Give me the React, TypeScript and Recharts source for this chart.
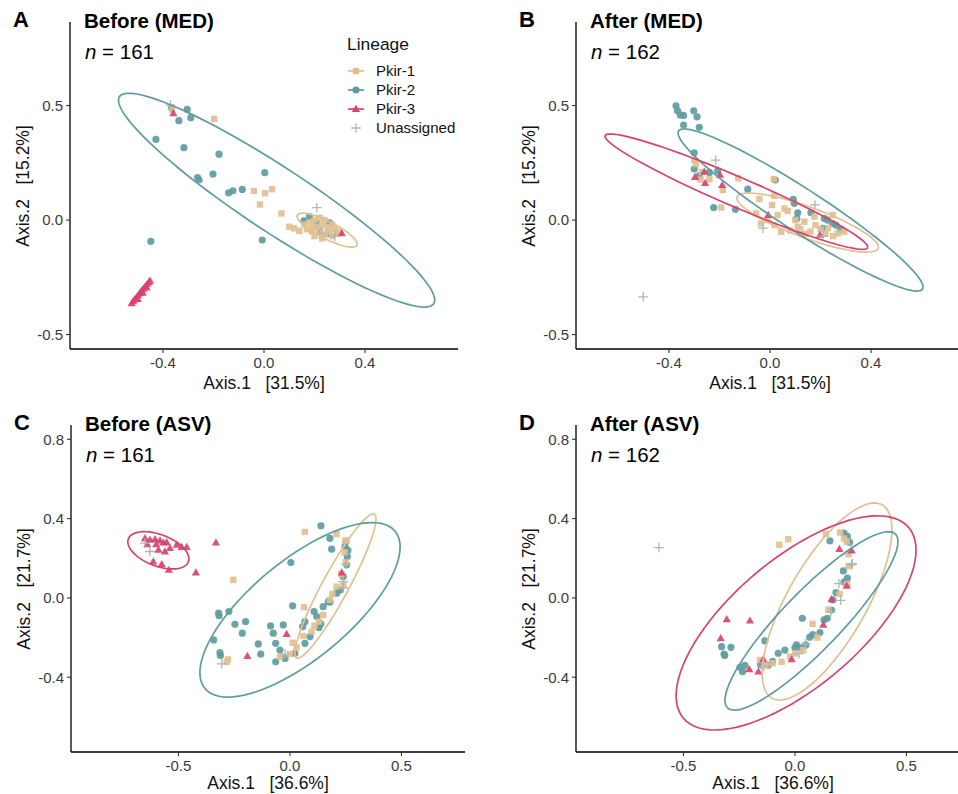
import React from "react"
import { ScatterChart, Scatter, XAxis, YAxis } from "recharts"

const TAN = "#E2BF93"
const TEAL = "#5E9C9F"
const RED = "#D8436D"
const GREY = "#B4B4B4"
const FONT = '"Liberation Sans", Arial, Helvetica, sans-serif'

// ---- tick labels ----
const medTicksX = [-0.4, 0, 0.4]
const medTicksY = [-0.5, 0, 0.5]
const asvTicksX = [-0.5, 0, 0.5]
const asvTicksY = [-0.4, 0, 0.4, 0.8]

// ---- A: Before (MED) ----
const beforeMedPkir1 = [
  [-0.364, 0.483], [-0.197, 0.442], [-0.04, 0.127], [0.004, 0.117], [0.032, 0.135], [-0.016, 0.068],
  [0.069, 0.029], [0.1, -0.029], [0.119, -0.036], [0.14, -0.047], [0.195, -0.029], [0.18, -0.01],
  [0.2, 0.0], [0.22, 0.01], [0.24, 0.0], [0.21, -0.03], [0.23, -0.02], [0.25, -0.03], [0.27, -0.02],
  [0.28, -0.04], [0.26, -0.05], [0.24, -0.06], [0.22, -0.05], [0.19, -0.05], [0.3, -0.05],
  [0.29, -0.06], [0.27, -0.07], [0.2, -0.07], [0.23, -0.08], [0.17, -0.04], [0.16, -0.02],
]
const beforeMedPkir2 = [
  [-0.366, 0.49], [-0.304, 0.483], [-0.29, 0.447], [-0.337, 0.434], [-0.428, 0.352], [-0.317, 0.316],
  [-0.178, 0.288], [-0.263, 0.186], [-0.257, 0.175], [-0.202, 0.201], [0.003, 0.207], [-0.14, 0.119],
  [-0.123, 0.128], [-0.086, 0.134], [-0.448, -0.093], [-0.007, -0.087], [0.158, -0.003], [0.18, 0.015],
  [0.209, -0.015], [0.261, -0.015], [0.22, -0.045], [0.25, -0.06], [0.259, -0.012],
]
const beforeMedPkir3 = [
  [-0.359, 0.466], [0.308, -0.058], [-0.524, -0.364], [-0.518, -0.355], [-0.512, -0.347],
  [-0.505, -0.338], [-0.498, -0.329], [-0.492, -0.32], [-0.485, -0.31], [-0.478, -0.3], [-0.47, -0.29],
  [-0.463, -0.28], [-0.456, -0.272], [-0.451, -0.265], [-0.5, -0.345], [-0.48, -0.318], [-0.465, -0.295],
]
const beforeMedUnassigned = [[-0.37, 0.502], [0.209, 0.054], [0.28, -0.07], [0.22, -0.06]]

// ---- B: After (MED) ----
const afterMedPkir1 = [
  [-0.3, 0.262], [-0.293, 0.245], [-0.24, 0.178], [-0.275, 0.177], [-0.187, 0.131], [-0.126, 0.182],
  [0.015, 0.179], [-0.193, 0.055], [-0.042, 0.092], [0.008, 0.066], [0.017, 0.106], [-0.055, 0.029],
  [0.03, 0.022], [0.057, 0.051], [0.07, 0.04], [-0.036, -0.015], [0.017, -0.022], [0.044, -0.051],
  [0.11, -0.029], [0.136, -0.007], [0.176, 0.015], [0.18, -0.022], [0.2, -0.04], [0.23, -0.035],
  [0.248, 0.022], [0.268, -0.058], [0.294, -0.051], [0.14, -0.06], [0.08, -0.045], [-0.01, 0.0],
  [0.1, 0.0], [0.16, -0.05], [0.22, -0.06], [0.25, -0.07], [0.12, -0.04], [-0.27, 0.21],
]
const afterMedPkir2 = [
  [-0.372, 0.499], [-0.366, 0.477], [-0.355, 0.459], [-0.342, 0.457], [-0.302, 0.477], [-0.289, 0.451],
  [-0.342, 0.415], [-0.28, 0.405], [-0.3, 0.294], [-0.3, 0.223], [-0.28, 0.194], [-0.24, 0.208],
  [-0.207, 0.215], [-0.223, 0.055], [-0.137, 0.047], [-0.088, 0.135], [0.021, 0.175], [0.092, 0.09],
  [0.096, 0.073], [0.11, 0.032], [0.106, 0.007], [0.162, 0.032], [0.215, 0.007], [0.228, 0.0],
  [0.248, -0.015], [0.261, -0.022], [0.209, -0.036], [0.28, -0.04],
]
const afterMedPkir3 = [
  [-0.297, 0.188], [-0.257, 0.162], [-0.26, 0.211], [-0.198, 0.197], [-0.189, 0.153], [-0.007, 0.022],
  [0.198, -0.065],
]
const afterMedUnassigned = [[-0.215, 0.262], [-0.502, -0.335], [-0.028, -0.035], [0.178, 0.066], [0.21, -0.07]]

// ---- C: Before (ASV) ----
const beforeAsvPkir1 = [
  [0.067, 0.333], [0.209, 0.322], [-0.254, 0.091], [0.063, -0.047], [-0.284, -0.322], [-0.278, -0.31],
  [0.012, -0.226], [0.06, -0.192], [0.097, -0.17], [0.149, -0.086], [0.179, -0.01], [0.209, 0.057],
  [0.24, 0.07], [0.25, 0.18], [0.25, 0.29], [0.0, -0.283], [-0.045, -0.296], [0.11, -0.14],
  [0.19, 0.02], [0.23, 0.12], [0.245, 0.23], [0.03, -0.25], [0.13, -0.12],
]
const beforeAsvPkir2 = [
  [0.139, 0.364], [0.179, 0.301], [0.187, 0.246], [0.004, 0.178], [0.012, -0.04], [-0.32, -0.077],
  [-0.274, -0.069], [-0.318, -0.09], [-0.247, -0.133], [-0.199, -0.12], [-0.214, -0.178], [-0.342, -0.212],
  [-0.314, -0.276], [-0.312, -0.29], [-0.142, -0.232], [-0.131, -0.283], [-0.087, -0.141], [-0.075, -0.178],
  [-0.03, -0.136], [-0.064, -0.229], [-0.045, -0.263], [-0.064, -0.322], [-0.022, -0.305], [0.022, -0.279],
  [0.057, -0.145], [0.067, -0.12], [0.108, -0.069], [0.12, -0.094], [0.138, -0.131], [0.13, -0.15],
  [0.09, -0.195], [0.067, -0.229], [0.149, -0.044], [0.172, -0.019], [0.18, -0.02], [0.209, 0.024],
  [0.224, 0.04], [0.239, 0.108], [0.254, 0.167], [0.257, 0.209], [0.247, 0.259], [0.251, 0.284],
  [0.26, 0.24],
]
const beforeAsvPkir3 = [
  [-0.65, 0.301], [-0.628, 0.293], [-0.605, 0.296], [-0.583, 0.289], [-0.568, 0.279], [-0.553, 0.28],
  [-0.538, 0.251], [-0.508, 0.268], [-0.486, 0.256], [-0.463, 0.256], [-0.59, 0.242], [-0.561, 0.234],
  [-0.613, 0.183], [-0.575, 0.17], [-0.543, 0.141], [-0.422, 0.128], [-0.332, 0.279], [-0.64, 0.27],
  [-0.6, 0.27], [-0.015, -0.182], [-0.191, -0.293], [0.232, 0.128],
]
const beforeAsvUnassigned = [
  [-0.306, -0.333], [0.239, 0.082], [0.25, 0.17], [-0.022, -0.283], [-0.65, 0.276], [-0.628, 0.234], [0.24, 0.05],
]

// ---- D: After (ASV) ----
const afterAsvPkir1 = [
  [-0.07, 0.268], [-0.03, 0.296], [0.139, 0.323], [0.202, 0.33], [0.232, 0.284], [0.24, 0.16],
  [0.235, 0.07], [0.2, 0.02], [0.079, -0.131], [0.15, -0.06], [0.037, -0.263], [-0.022, -0.296],
  [-0.06, -0.322], [-0.1, -0.33], [-0.157, -0.313], [-0.13, -0.34], [0.24, 0.22], [0.22, 0.3],
  [0.1, -0.2], [0.0, -0.28],
]
const afterAsvPkir2 = [
  [0.157, 0.288], [0.22, 0.327], [0.235, 0.31], [0.245, 0.28], [0.217, 0.136], [0.235, 0.1],
  [0.22, 0.08], [0.184, 0.027], [0.17, -0.01], [0.164, -0.061], [0.145, -0.103], [0.13, -0.11],
  [0.112, -0.175], [0.08, -0.185], [0.066, -0.198], [0.033, -0.103], [0.049, -0.237], [0.007, -0.237],
  [0.0, -0.25], [0.022, -0.252], [-0.075, -0.279], [-0.135, -0.217], [-0.154, -0.338], [-0.12, -0.34],
  [-0.247, -0.35], [-0.225, -0.34], [-0.235, -0.372], [-0.329, -0.246], [-0.287, -0.249], [-0.318, -0.283],
  [-0.315, -0.29], [-0.045, -0.263], [-0.1, -0.32],
]
const afterAsvPkir3 = [
  [-0.306, -0.108], [-0.202, -0.115], [-0.333, -0.204], [-0.142, -0.31], [-0.205, -0.36], [-0.164, -0.372],
  [-0.015, -0.31], [0.127, -0.136], [0.164, -0.007], [0.232, 0.061], [0.199, 0.246], [0.254, 0.239],
]
const afterAsvUnassigned = [
  [-0.61, 0.254], [0.257, 0.173], [0.197, 0.072], [0.205, -0.012], [0.16, -0.07], [0.048, -0.231],
  [0.018, -0.281], [-0.139, -0.345], [0.254, 0.167],
]

// ---- 95% ellipses: centre x, centre y, x half-extent, y half-extent, correlation ----
const beforeMedEllipses = { pkir1: [0.25, -0.044, 0.119, 0.074, -0.82], pkir2: [0.05, 0.087, 0.626, 0.467, -0.934] }
const afterMedEllipses = {
  pkir1: [0.149, -0.011, 0.28, 0.129, -0.83],
  pkir2: [0.121, 0.044, 0.485, 0.354, -0.95],
  pkir3: [-0.133, 0.124, 0.52, 0.252, -0.96],
}
const beforeAsvEllipses = {
  pkir1: [0.204, 0.06, 0.182, 0.364, 0.93],
  pkir2: [0.045, -0.06, 0.449, 0.44, 0.72],
  pkir3: [-0.59, 0.24, 0.137, 0.094, -0.46],
}
const afterAsvEllipses = {
  pkir1: [0.144, -0.018, 0.291, 0.497, 0.73],
  pkir2: [0.074, -0.116, 0.388, 0.45, 0.89],
  pkir3: [0.005, -0.126, 0.538, 0.54, 0.68],
}

const toPts = (arr: number[][]) => arr.map(([x, y]) => ({ x, y }))

// outline of an ellipse given its bounding extents and tilt
function ellipsePath(e: number[]) {
  const [cx, cy, rx, ry, r] = e
  const phi = Math.acos(r)
  const pts = []
  for (let i = 0; i <= 90; i++) {
    const t = (i / 90) * Math.PI * 2
    pts.push({ x: cx + rx * Math.cos(t), y: cy + ry * Math.cos(t - phi) })
  }
  return pts
}

const squareShape = (p: any) => (
  <rect x={p.cx - 3.2} y={p.cy - 3.2} width={6.4} height={6.4} fill={TAN} fillOpacity={0.92} />
)
const circleShape = (p: any) => <circle cx={p.cx} cy={p.cy} r={3.6} fill={TEAL} fillOpacity={0.92} />
const triangleShape = (p: any) => (
  <polygon
    points={`${p.cx},${p.cy - 4.3} ${p.cx + 4.1},${p.cy + 2.9} ${p.cx - 4.1},${p.cy + 2.9}`}
    fill={RED}
    fillOpacity={0.92}
  />
)
const plusShape = (p: any) => (
  <path d={`M${p.cx - 4.8},${p.cy}H${p.cx + 4.8}M${p.cx},${p.cy - 4.8}V${p.cy + 4.8}`} stroke={GREY} strokeWidth={1.3} />
)
const noShape = () => <g />

interface PanelProps {
  box: { x: number; y: number; w: number; h: number }
  letter: string
  title: string
  n: number
  xDomain: number[]
  yDomain: number[]
  xTicks: number[]
  yTicks: number[]
  xTitle: string
  yTitle: string
  titleGap: number
  pkir1: number[][]
  pkir2: number[][]
  pkir3: number[][]
  unassigned: number[][]
  ellipses: { pkir1?: number[]; pkir2?: number[]; pkir3?: number[] }
}

const tickStyle = { fontSize: 15, fill: "#3a3a3a", fontFamily: FONT }

function Panel(props: PanelProps) {
  const { box, ellipses } = props
  const chartLeft = box.x - 70
  const chartTop = box.y - 20
  const fmt = (v: number) => v.toFixed(1)
  const line = (c: string) => ({ stroke: c, strokeWidth: 1.7, fill: "none" })

  return (
    <>
      <div style={{ position: "absolute", left: chartLeft, top: chartTop }}>
        <ScatterChart
          width={box.w + 80}
          height={box.h + 60}
          margin={{ top: 20, right: 10, bottom: 10, left: 20 }}
        >
          <XAxis
            type="number"
            dataKey="x"
            domain={props.xDomain}
            allowDataOverflow
            ticks={props.xTicks}
            interval={0}
            tickFormatter={fmt}
            height={30}
            tickSize={4}
            tickMargin={4}
            tick={tickStyle}
            axisLine={{ stroke: "#000", strokeWidth: 1.3 }}
            tickLine={{ stroke: "#333", strokeWidth: 1.1 }}
          />
          <YAxis
            type="number"
            dataKey="y"
            domain={props.yDomain}
            allowDataOverflow
            ticks={props.yTicks}
            interval={0}
            tickFormatter={fmt}
            width={50}
            tickSize={4}
            tickMargin={3}
            tick={tickStyle}
            axisLine={{ stroke: "#000", strokeWidth: 1.3 }}
            tickLine={{ stroke: "#333", strokeWidth: 1.1 }}
          />
          <Scatter data={toPts(props.pkir2)} shape={circleShape} isAnimationActive={false} />
          <Scatter data={toPts(props.pkir1)} shape={squareShape} isAnimationActive={false} />
          <Scatter data={toPts(props.pkir3)} shape={triangleShape} isAnimationActive={false} />
          <Scatter data={toPts(props.unassigned)} shape={plusShape} isAnimationActive={false} />
          {ellipses.pkir1 && (
            <Scatter data={ellipsePath(ellipses.pkir1)} shape={noShape} line={line(TAN)} fill="none" isAnimationActive={false} />
          )}
          {ellipses.pkir2 && (
            <Scatter data={ellipsePath(ellipses.pkir2)} shape={noShape} line={line(TEAL)} fill="none" isAnimationActive={false} />
          )}
          {ellipses.pkir3 && (
            <Scatter data={ellipsePath(ellipses.pkir3)} shape={noShape} line={line(RED)} fill="none" isAnimationActive={false} />
          )}
        </ScatterChart>
      </div>
      <div style={{ position: "absolute", left: box.x - 57, top: box.y - 13, fontSize: 22, fontWeight: 700, lineHeight: "22px" }}>
        {props.letter}
      </div>
      <div style={{ position: "absolute", left: box.x + 14, top: box.y - 12, fontSize: 20.5, fontWeight: 700, lineHeight: "22px" }}>
        {props.title}
      </div>
      <div style={{ position: "absolute", left: box.x + 15, top: box.y + 19, fontSize: 20.5, lineHeight: "22px" }}>
        <i>n</i> = {props.n}
      </div>
      <div
        style={{
          position: "absolute",
          left: box.x,
          width: box.w,
          top: box.y + box.h + props.titleGap,
          textAlign: "center",
          fontSize: 17.5,
          lineHeight: "20px",
          whiteSpace: "pre",
          color: "#111",
        }}
      >
        {props.xTitle}
      </div>
      <div
        style={{
          position: "absolute",
          left: box.x - 48 - box.h / 2,
          width: box.h,
          top: box.y + box.h / 2 - 10,
          textAlign: "center",
          fontSize: 17.5,
          lineHeight: "20px",
          whiteSpace: "pre",
          color: "#111",
          transform: "rotate(-90deg)",
        }}
      >
        {props.yTitle}
      </div>
    </>
  )
}

const legendItems = [
  { label: "Pkir-1", color: TAN, kind: "square" },
  { label: "Pkir-2", color: TEAL, kind: "circle" },
  { label: "Pkir-3", color: RED, kind: "triangle" },
  { label: "Unassigned", color: GREY, kind: "plus" },
]

function LegendKey({ kind, color }: { kind: string; color: string }) {
  return (
    <svg width={18} height={14} style={{ display: "block" }}>
      {kind !== "plus" && <line x1={1} x2={17} y1={7} y2={7} stroke={color} strokeWidth={1.7} />}
      {kind === "square" && <rect x={5.8} y={3.8} width={6.4} height={6.4} fill={color} />}
      {kind === "circle" && <circle cx={9} cy={7} r={3.6} fill={color} />}
      {kind === "triangle" && <polygon points="9,2.7 13.1,9.9 4.9,9.9" fill={color} />}
      {kind === "plus" && <path d="M4.2,7H13.8M9,2.2V11.8" stroke={color} strokeWidth={1.3} />}
    </svg>
  )
}

function Legend() {
  return (
    <div style={{ position: "absolute", left: 347, top: 33 }}>
      <div style={{ fontSize: 17.4, lineHeight: "22px", color: "#111" }}>Lineage</div>
      <div style={{ marginTop: 6 }}>
        {legendItems.map((it) => (
          <div key={it.label} style={{ display: "flex", alignItems: "center", height: 19 }}>
            <LegendKey kind={it.kind} color={it.color} />
            <span style={{ marginLeft: 11, fontSize: 15, color: "#111" }}>{it.label}</span>
          </div>
        ))}
      </div>
    </div>
  )
}

export default function App() {
  const medX = [-0.768, 0.768]
  const medY = [-0.563, 0.865]
  const asvX = [-0.982, 0.785]
  const asvY = [-0.777, 0.872]
  return (
    <div
      style={{
        position: "absolute",
        left: 0,
        top: 0,
        width: 958,
        height: 794,
        overflow: "hidden",
        background: "#fff",
        fontFamily: FONT,
        color: "#000",
      }}
    >
      <Panel
        box={{ x: 70, y: 22, w: 388, h: 327 }}
        letter="A"
        title="Before (MED)"
        n={161}
        xDomain={medX}
        yDomain={medY}
        xTicks={medTicksX}
        yTicks={medTicksY}
        xTitle="Axis.1   [31.5%]"
        yTitle="Axis.2   [15.2%]"
        titleGap={24}
        pkir1={beforeMedPkir1}
        pkir2={beforeMedPkir2}
        pkir3={beforeMedPkir3}
        unassigned={beforeMedUnassigned}
        ellipses={beforeMedEllipses}
      />
      <Panel
        box={{ x: 576, y: 22, w: 388, h: 327 }}
        letter="B"
        title="After (MED)"
        n={162}
        xDomain={medX}
        yDomain={medY}
        xTicks={medTicksX}
        yTicks={medTicksY}
        xTitle="Axis.1   [31.5%]"
        yTitle="Axis.2   [15.2%]"
        titleGap={24}
        pkir1={afterMedPkir1}
        pkir2={afterMedPkir2}
        pkir3={afterMedPkir3}
        unassigned={afterMedUnassigned}
        ellipses={afterMedEllipses}
      />
      <Panel
        box={{ x: 71, y: 425, w: 394, h: 327 }}
        letter="C"
        title="Before (ASV)"
        n={161}
        xDomain={asvX}
        yDomain={asvY}
        xTicks={asvTicksX}
        yTicks={asvTicksY}
        xTitle="Axis.1   [36.6%]"
        yTitle="Axis.2   [21.7%]"
        titleGap={21}
        pkir1={beforeAsvPkir1}
        pkir2={beforeAsvPkir2}
        pkir3={beforeAsvPkir3}
        unassigned={beforeAsvUnassigned}
        ellipses={beforeAsvEllipses}
      />
      <Panel
        box={{ x: 576, y: 425, w: 394, h: 327 }}
        letter="D"
        title="After (ASV)"
        n={162}
        xDomain={asvX}
        yDomain={asvY}
        xTicks={asvTicksX}
        yTicks={asvTicksY}
        xTitle="Axis.1   [36.6%]"
        yTitle="Axis.2   [21.7%]"
        titleGap={21}
        pkir1={afterAsvPkir1}
        pkir2={afterAsvPkir2}
        pkir3={afterAsvPkir3}
        unassigned={afterAsvUnassigned}
        ellipses={afterAsvEllipses}
      />
      <Legend />
    </div>
  )
}
